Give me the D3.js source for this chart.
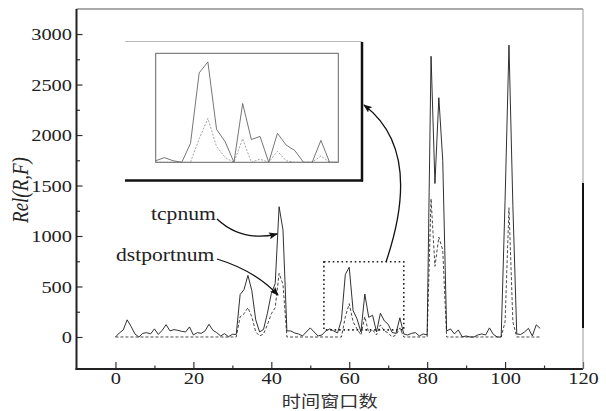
<!DOCTYPE html>
<html>
<head>
<meta charset="utf-8">
<script src="https://cdn.jsdelivr.net/npm/d3@7"></script>
<style>
  body { margin: 0; background: #fff; }
  svg text { font-family: "Liberation Serif", "Times New Roman", serif; fill: #222; }
</style>
</head>
<body>
<div id="chart"></div>
<script>
// data, one value per time window (0..109)
var tcpnum = [
    0, 40, 70, 170, 105, 30, 0, 36, 43, 30,
    80, 26, 66, 122, 60, 73, 66, 56, 50, 100,
    20, 43, 36, 60, 126, 66, 43, 10, 33, 3,
    26, 26, 420, 470, 610, 460, 170, 50, 75, 235,
    430, 530, 1290, 1060, 60, 60, 40, 30, 10, 50,
    90, 50, 10, 20, 60, 80, 60, 40, 170, 620,
    690, 260, 180, 50, 425, 195, 215, 50, 235, 160,
    125, 45, 36, 190, 30, 20, 36, 43, 10, 30,
    20, 2780, 1520, 2370, 1750, 60, 80, 30, 70, 0,
    10, 0, 0, 20, 30, 20, 90, 25, 0, 0,
    1350, 2890, 1300, 30, 25, 50, 85, 10, 120, 85
];
var dstportnum = [
    0, 0, 0, 0, 0, 0, 0, 0, 0, 0,
    0, 0, 0, 0, 0, 0, 0, 0, 0, 0,
    0, 0, 0, 0, 0, 0, 0, 0, 0, 0,
    0, 0, 200, 230, 290, 200, 50, 10, 30, 120,
    230, 290, 630, 520, 0, 0, 0, 0, 0, 0,
    0, 0, 0, 0, 0, 0, 0, 0, 0, 200,
    330, 150, 80, 20, 200, 40, 70, 20, 120, 60,
    40, 0, 20, 90, 0, 0, 0, 0, 0, 0,
    0, 1370, 700, 990, 860, 0, 0, 0, 0, 0,
    0, 0, 0, 0, 0, 0, 0, 0, 0, 0,
    150, 1280, 150, 0, 0, 0, 0, 0, 0, 0
];
var xTicks = [0, 20, 40, 60, 80, 100, 120];
var xMinor = [10, 30, 50, 70, 90, 110];
var yTicks = [0, 500, 1000, 1500, 2000, 2500, 3000];
var yMinor = [250, 750, 1250, 1750, 2250, 2750];
var zoomWin = [54, 75];      // windows shown in the inset
var zoomVal = [50, 745];

var W = 606, H = 411;
var frame = { left: 76.5, right: 583, top: 9, bottom: 369 };
var SX = 1.2;  // the scan is stretched sideways, text too
var SERIF = "'Liberation Serif', 'Times New Roman', serif";

var svg = d3.select("#chart")
    .append("svg")
    .attr("width", W)
    .attr("height", H);

var x = d3.scaleLinear().domain([-10, 120]).range([frame.left, frame.right]);
var y = d3.scaleLinear().domain([-317, 3248]).range([frame.bottom, frame.top]);

// arrowhead
var defs = svg.append("defs");
defs.append("marker")
    .attr("id", "head")
    .attr("viewBox", "0 0 10 8")
    .attr("refX", 9).attr("refY", 4)
    .attr("markerWidth", 9).attr("markerHeight", 7)
    .attr("markerUnits", "userSpaceOnUse")
    .attr("orient", "auto")
    .append("path")
    .attr("d", "M0,0 L10,4 L0,8 L2,4 z")
    .attr("fill", "#111");

// axes, ticks pointing inward
var yAxis = svg.append("g")
    .attr("transform", "translate(" + frame.left + ",0)")
    .call(d3.axisLeft(y).tickValues(yTicks).tickFormat(d3.format("d"))
        .tickSizeInner(-6).tickSizeOuter(0).tickPadding(0));
yAxis.attr("font-family", null);
yAxis.select(".domain").remove();
yAxis.selectAll("line").attr("stroke", "#333").attr("stroke-width", 1.2);
yAxis.selectAll("text")
    .attr("x", -4.5 / SX)
    .attr("dy", "0.34em")
    .attr("transform", "scale(" + SX + ",1)")
    .style("font-family", SERIF)
    .style("font-size", "17px");

var yMinorAxis = svg.append("g")
    .attr("transform", "translate(" + frame.left + ",0)")
    .call(d3.axisLeft(y).tickValues(yMinor).tickSizeInner(-3.5).tickSizeOuter(0).tickFormat(""));
yMinorAxis.select(".domain").remove();
yMinorAxis.selectAll("line").attr("stroke", "#333").attr("stroke-width", 1.2);

var xAxis = svg.append("g")
    .attr("transform", "translate(0," + frame.bottom + ")")
    .call(d3.axisBottom(x).tickValues(xTicks).tickFormat(d3.format("d"))
        .tickSizeInner(-7).tickSizeOuter(0).tickPadding(3));
xAxis.attr("font-family", null);
xAxis.select(".domain").remove();
xAxis.selectAll("line").attr("stroke", "#333").attr("stroke-width", 1.2);
xAxis.selectAll("text")
    .attr("transform", "scale(" + SX + ",1)")
    .style("font-family", SERIF)
    .style("font-size", "17px");

var xMinorAxis = svg.append("g")
    .attr("transform", "translate(0," + frame.bottom + ")")
    .call(d3.axisBottom(x).tickValues(xMinor).tickSizeInner(-3.5).tickSizeOuter(0).tickFormat(""));
xMinorAxis.select(".domain").remove();
xMinorAxis.selectAll("line").attr("stroke", "#333").attr("stroke-width", 1.2);

// frame
svg.append("line").attr("x1", frame.left).attr("x2", frame.right)
    .attr("y1", frame.top).attr("y2", frame.top)
    .attr("stroke", "#555").attr("stroke-width", 1.2);
svg.append("line").attr("x1", frame.left).attr("x2", frame.left)
    .attr("y1", frame.top).attr("y2", frame.bottom + 1)
    .attr("stroke", "#222").attr("stroke-width", 2);
svg.append("line").attr("x1", frame.left - 1).attr("x2", frame.right)
    .attr("y1", frame.bottom).attr("y2", frame.bottom)
    .attr("stroke", "#222").attr("stroke-width", 2);
svg.append("line").attr("x1", frame.right).attr("x2", frame.right)
    .attr("y1", frame.top).attr("y2", frame.bottom)
    .attr("stroke", "#999").attr("stroke-width", 1);
svg.append("line").attr("x1", frame.right).attr("x2", frame.right)
    .attr("y1", 183).attr("y2", 328)
    .attr("stroke", "#111").attr("stroke-width", 2);

// series
var line = d3.line()
    .x(function (d, i) { return x(i); })
    .y(function (d) { return y(d); });

svg.append("path")
    .datum(dstportnum)
    .attr("d", line)
    .attr("fill", "none")
    .attr("stroke", "#333")
    .attr("stroke-width", 0.9)
    .attr("stroke-dasharray", "3,2");

svg.append("path")
    .datum(tcpnum)
    .attr("d", line)
    .attr("fill", "none")
    .attr("stroke", "#1a1a1a")
    .attr("stroke-width", 0.9);

// dotted box round the zoomed windows
svg.append("rect")
    .attr("x", x(53.5))
    .attr("y", y(zoomVal[1]))
    .attr("width", x(74) - x(53.5))
    .attr("height", y(70) - y(zoomVal[1]))
    .attr("fill", "none")
    .attr("stroke", "#222")
    .attr("stroke-width", 1.6)
    .attr("stroke-dasharray", "1.6,2.8");

// inset panel with shadow edges
svg.append("line").attr("x1", 125).attr("x2", 362).attr("y1", 41.5).attr("y2", 41.5)
    .attr("stroke", "#bbb").attr("stroke-width", 1);
svg.append("line").attr("x1", 362).attr("x2", 362).attr("y1", 42).attr("y2", 181.5)
    .attr("stroke", "#111").attr("stroke-width", 2.5);
svg.append("line").attr("x1", 125).attr("x2", 363).attr("y1", 180.5).attr("y2", 180.5)
    .attr("stroke", "#111").attr("stroke-width", 2.5);

var inset = { left: 155.7, right: 338.3, top: 53.3, bottom: 162.3 };
var xi = d3.scaleLinear().domain(zoomWin).range([inset.left, inset.right]);
var yi = d3.scaleLinear().domain(zoomVal).range([inset.bottom, inset.top]).clamp(true);

defs.append("clipPath").attr("id", "insetClip")
    .append("rect")
    .attr("x", inset.left).attr("y", inset.top)
    .attr("width", inset.right - inset.left).attr("height", inset.bottom - inset.top);

var insetLine = d3.line()
    .defined(function (d, i) { return i >= zoomWin[0] && i <= zoomWin[1]; })
    .x(function (d, i) { return xi(i); })
    .y(function (d) { return yi(d); });

var g = svg.append("g").attr("clip-path", "url(#insetClip)");
g.append("path")
    .datum(dstportnum)
    .attr("d", insetLine)
    .attr("fill", "none")
    .attr("stroke", "#999")
    .attr("stroke-width", 0.9)
    .attr("stroke-dasharray", "2,1.5");
g.append("path")
    .datum(tcpnum)
    .attr("d", insetLine)
    .attr("fill", "none")
    .attr("stroke", "#666")
    .attr("stroke-width", 0.9);

svg.append("rect")
    .attr("x", inset.left).attr("y", inset.top)
    .attr("width", inset.right - inset.left).attr("height", inset.bottom - inset.top)
    .attr("fill", "none")
    .attr("stroke", "#666")
    .attr("stroke-width", 1);

// annotations
function stretchedText(tx, ty, str, size) {
    return svg.append("text")
        .attr("transform", "translate(" + tx + "," + ty + ") scale(" + SX + ",1)")
        .style("font-family", SERIF)
        .style("font-size", size + "px")
        .text(str);
}
stretchedText(151, 220, "tcpnum", 18);
stretchedText(116, 261, "dstportnum", 18);

var arrows = [
    "M217,219 C232,233 252,240 277,234",
    "M217,259 C240,266 262,278 278,295",
    "M386,262 C407,200 410,140 364,105"
];
svg.selectAll(".arrow")
    .data(arrows)
    .enter()
    .append("path")
    .attr("class", "arrow")
    .attr("d", function (d) { return d; })
    .attr("fill", "none")
    .attr("stroke", "#111")
    .attr("stroke-width", 1.3)
    .attr("marker-end", "url(#head)");

// axis titles
svg.append("text")
    .attr("transform", "translate(" + ((frame.left + frame.right) / 2) + ",407) scale(" + SX + ",1)")
    .attr("text-anchor", "middle")
    .style("font-family", "'Noto Sans CJK SC'")
    .style("font-size", "16px")
    .style("fill", "#333")
    .text("时间窗口数");

svg.append("text")
    .attr("transform", "translate(28,190) rotate(-90) scale(1," + SX + ")")
    .attr("text-anchor", "middle")
    .style("font-family", SERIF)
    .style("font-style", "italic")
    .style("font-size", "19px")
    .text("Rel(R,F)");
</script>
</body>
</html>
